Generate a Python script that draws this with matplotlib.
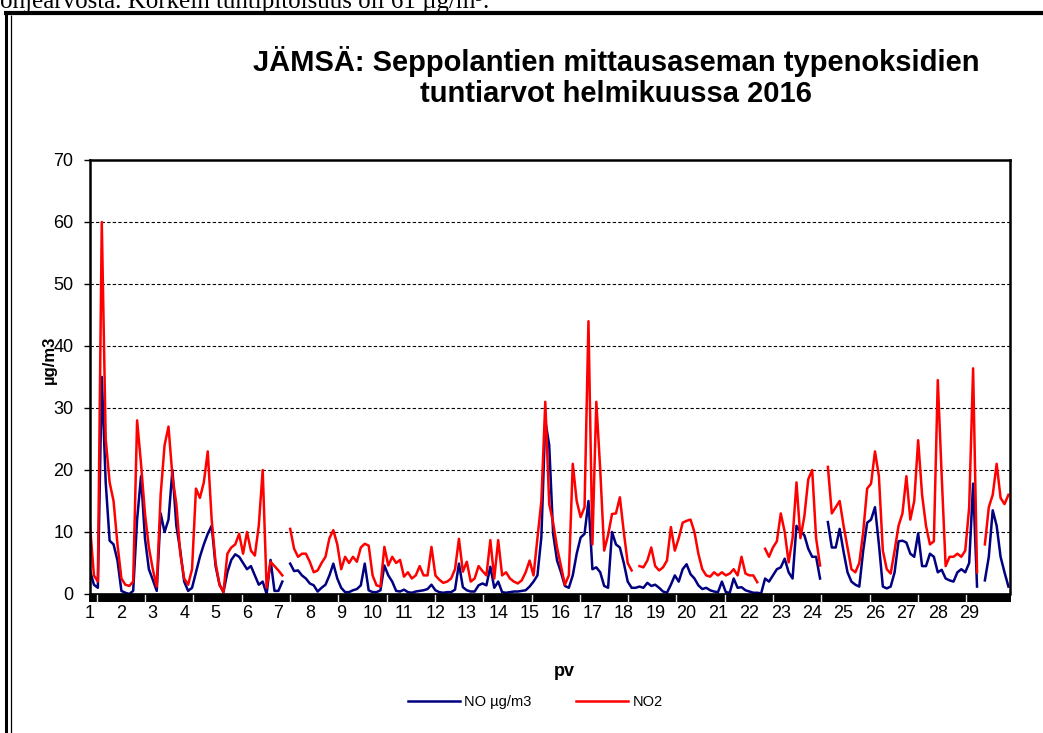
import numpy as np
import matplotlib
matplotlib.use('Agg')
import matplotlib.pyplot as plt
from matplotlib import font_manager
from matplotlib.lines import Line2D
from matplotlib.ticker import FixedLocator, NullFormatter

# Hourly NOx values at 3-hour steps (8 per day), Feb 2016
nan = np.nan
no_values = [
    3.8, 1.5, 1, 35, 18, 8.6, 8, 5.4,
    0.5, 0.2, 0, 0.5, 12, 19, 9, 4,
    2.3, 0.5, 13, 10, 12, 20, 11, 7,
    2, 0.5, 1, 3.5, 6, 8, 9.7, 11,
    4.5, 1.5, 0.3, 3.5, 5.5, 6.4, 6, 5,
    4, 4.5, 3, 1.5, 2, 0, 5.5, 0.5,
    0.5, 2, nan, 4.9, 3.7, 3.8, 3, 2.5,
    1.7, 1.4, 0.4, 1, 1.5, 3, 4.9, 2.5,
    1, 0.3, 0.3, 0.6, 0.8, 1.4, 4.9, 0.6,
    0.3, 0.3, 0.6, 4.6, 3, 2, 0.5, 0.4,
    0.7, 0.3, 0.2, 0.4, 0.5, 0.6, 0.8, 1.5,
    0.6, 0.3, 0.2, 0.3, 0.3, 0.7, 4.9, 1.1,
    0.6, 0.4, 0.4, 1.4, 1.7, 1.4, 4.4, 1,
    2, 0.3, 0.2, 0.3, 0.4, 0.4, 0.5, 0.6,
    1.2, 2, 3, 9.2, 28, 24, 9.7, 5.4,
    3.5, 1.3, 1, 3, 6.5, 9.1, 9.7, 15,
    4, 4.3, 3.5, 1.3, 1, 10, 8, 7.5,
    5, 2, 1, 1, 1.2, 1, 1.8, 1.3,
    1.5, 1, 0.4, 0.2, 1.5, 3, 2, 4,
    4.8, 3.2, 2.5, 1.4, 0.8, 1, 0.6, 0.4,
    0.3, 2, 0.3, 0.2, 2.5, 1, 1.1, 0.6,
    0.4, 0.2, 0.2, 0.1, 2.5, 2, 3, 4,
    4.3, 5.7, 3.5, 2.5, 11, 10, 9.5, 7.3,
    6, 6, 2.5, nan, 11.6, 7.5, 7.5, 10.5,
    6.8, 3.5, 2, 1.5, 1.2, 7, 11.5, 12,
    14, 8, 1.2, 0.9, 1.2, 3.5, 8.5, 8.6,
    8.3, 6.5, 6, 9.8, 4.5, 4.5, 6.5, 6,
    3.5, 3.9, 2.5, 2.2, 2, 3.5, 4, 3.5,
    5, 17.8, 1.2, nan, 2.2, 6, 13.5, 11,
    6, 3.5, 1.2,
]
no2_values = [
    11, 3, 2, 60, 25, 18, 15, 8,
    2.5, 1.5, 1.3, 2, 28, 21, 13, 7.5,
    4, 1.2, 16, 24, 27, 19, 14.5, 6.5,
    2.5, 1.5, 4, 17, 15.5, 18, 23, 12,
    5, 1.5, 0.3, 6.5, 7.5, 8, 9.7, 6.5,
    10, 7, 6.2, 11, 20, 1, 5.2, 4.5,
    3.8, 3, nan, 10.5, 7.3, 6, 6.5, 6.5,
    5.2, 3.5, 3.8, 5, 6, 9, 10.3, 8,
    4, 6, 5, 6, 5.2, 7.5, 8.1, 7.8,
    3, 1.4, 1.2, 7.6, 4.6, 6, 5, 5.5,
    2.8, 3.5, 2.5, 3, 4.5, 3, 3, 7.6,
    3, 2.3, 1.8, 2, 2.5, 4, 8.9, 3.6,
    5.2, 2, 2.5, 4.5, 3.7, 3, 8.7, 2.5,
    8.7, 3, 3.5, 2.5, 2, 1.7, 2.2, 3.5,
    5.4, 3, 9, 15, 31, 14.5, 11.5, 7.5,
    4.5, 1.5, 3, 21, 15, 12.4, 14, 44,
    8, 31, 20, 7, 9.5, 12.9, 13, 15.6,
    10, 5, 3.8, nan, 4.5, 4.3, 5.4, 7.5,
    4.5, 3.8, 4.3, 5.4, 10.8, 7, 9, 11.5,
    11.8, 12, 10, 6.5, 4, 3, 2.8, 3.5,
    3, 3.5, 3, 3.3, 4, 3, 6, 3.3,
    3, 3, 1.9, nan, 7.3, 6, 7.5, 8.5,
    13, 10, 5.1, 9, 18, 9, 12.5, 18.5,
    20, 9, 4.6, nan, 20.5, 13, 14, 15,
    11, 7.5, 4, 3.5, 5, 10, 17, 17.8,
    23, 19, 7, 4, 3.3, 7, 11, 13,
    19, 12, 15, 24.8, 16, 11, 8, 8.5,
    34.5, 19, 4.5, 6, 6, 6.5, 6, 7,
    14, 36.4, 3.5, nan, 8, 14, 16, 21,
    15.5, 14.5, 16,
]
day_labels = [str(d) for d in range(1, 30)]
y_ticks = [0, 10, 20, 30, 40, 50, 60, 70]

# x in days since 1 Feb 00:00 (3-hour sampling)
t = np.arange(len(no2_values)) * 3 / 24

names = {f.name for f in font_manager.fontManager.ttflist}
narrow = 'Liberation Sans Narrow' if 'Liberation Sans Narrow' in names else 'Liberation Sans'
plt.rcParams['font.family'] = ['Liberation Sans', 'DejaVu Sans']

W, H = 1043, 733
fig = plt.figure(figsize=(W / 100, H / 100), dpi=100)

# black category band under the x axis: a thin empty axes with black face
band = fig.add_axes([89 / W, 1 - 602 / H, 922 / W, 8 / H], facecolor='black')
band.set_xticks([])
band.set_yticks([])
for s in band.spines.values():
    s.set_visible(False)
band.set_zorder(0)

ax = fig.add_axes([90 / W, 1 - 594 / H, 920 / W, 434 / H])
ax.set_zorder(1)
ax.patch.set_facecolor('white')

ax.plot(t, no_values, color='#000080', lw=1.8, label='NO µg/m3', zorder=2)
ax.plot(t, no2_values, color='#ff0000', lw=1.8, label='NO2', zorder=2.1)

ax.set_xlim(0, 29.3)
ax.set_ylim(0, 70)
ax.set_yticks(y_ticks)
ax.set_yticklabels([str(v) for v in y_ticks], fontfamily=narrow, fontsize=13)
ax.tick_params(axis='y', length=4, width=1, pad=8)
ax.yaxis.grid(True, color='black', linestyle=(0, (3, 2)), lw=0.8)
ax.set_axisbelow(True)

for s in ['top', 'left', 'right']:
    ax.spines[s].set_linewidth(1.8)
ax.spines['bottom'].set_linewidth(1.2)

# light tick marks cutting through the band
ax.xaxis.remove_overlapping_locs = False
ax.xaxis.set_major_locator(FixedLocator(np.arange(0.22, 29.3, 1.538)))
ax.xaxis.set_major_formatter(NullFormatter())
ax.tick_params(axis='x', which='major', length=6.5, width=1.0, color='#e4e4e4')

# day labels as minor ticks without marks
ax.set_xticks(np.arange(len(day_labels)), day_labels, minor=True)
ax.tick_params(axis='x', which='minor', length=0, pad=8, labelsize=13, labelfontfamily=narrow)

ax.set_xlabel('pv', fontsize=13, fontweight='bold')
ax.xaxis.set_label_coords(0.516, -0.158)
ax.set_ylabel('µg/m3', fontsize=12, fontweight='bold')
ax.yaxis.set_label_coords(-0.036, 0.54)

ax.legend(loc='center', bbox_to_anchor=(535 / W, 1 - 702 / H), bbox_transform=fig.transFigure,
          ncol=2, frameon=False, handlelength=3.6, handletextpad=0.3, columnspacing=3.0,
          prop={'family': narrow, 'size': 10.5})

fig.text(616 / W, 1 - 77 / H, 'JÄMSÄ: Seppolantien mittausaseman typenoksidien\ntuntiarvot helmikuussa 2016',
         ha='center', va='center', fontsize=21, fontweight='bold', linespacing=1.17)

# clipped line of document text above the frame
fig.text(0, 1 - 8 / H, 'ohjearvosta. Korkein tuntipitoisuus oli 61 µg/m³.',
         ha='left', va='baseline', fontsize=18, family='Liberation Serif')

# document frame
def px_line(xs, ys, lw):
    fig.add_artist(Line2D([x / W for x in xs], [1 - y / H for y in ys], color='black',
                          lw=lw, solid_capstyle='butt', transform=fig.transFigure))

px_line([4, W], [13, 13], 3.0)
px_line([5.5, 5.5], [11, H], 2.2)
px_line([11, 11], [15, H], 0.9)

fig.savefig('out.png', dpi=100)
